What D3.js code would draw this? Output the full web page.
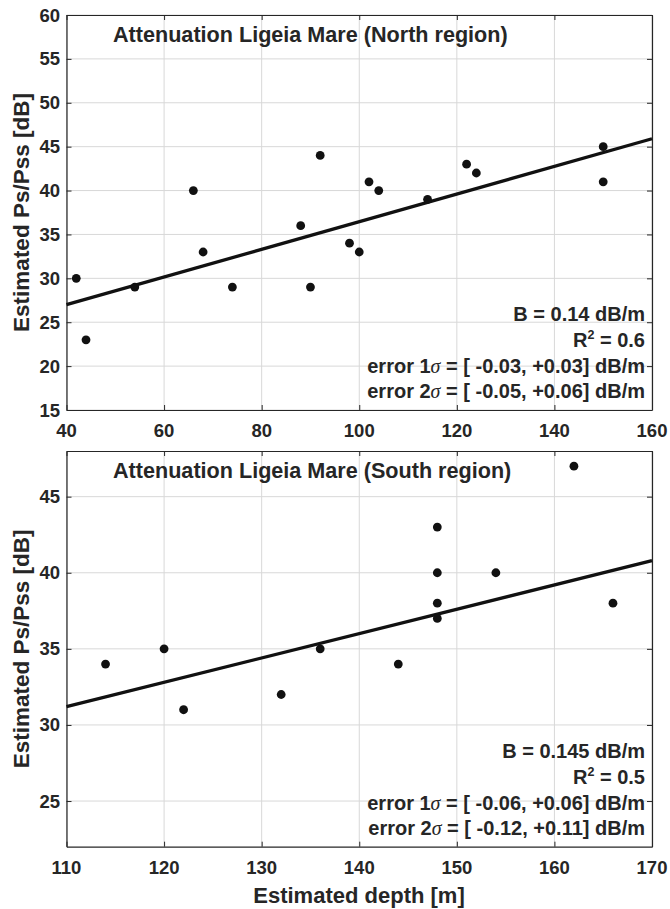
<!DOCTYPE html>
<html>
<head>
<meta charset="utf-8">
<script src="https://cdn.jsdelivr.net/npm/d3@7"></script>
<style>
  body { margin: 0; background: #fff; }
  svg text { font-family: "Liberation Sans", Arial, sans-serif; font-weight: bold; fill: #262626; }
</style>
</head>
<body>
<div id="chart"></div>
<script>
// North region points (depth in m, Ps/Pss in dB)
const northDepth = [42, 44, 54, 66, 68, 74, 88, 90, 92, 98, 100, 102, 104, 114, 122, 124, 150, 150];
const northPs = [30, 23, 29, 40, 33, 29, 36, 29, 44, 34, 33, 41, 40, 39, 43, 42, 45, 41];
const northFitX = [40, 160];
const northFitY = [27.0, 45.9];
const northXTicks = [40, 60, 80, 100, 120, 140, 160];
const northYTicks = [15, 20, 25, 30, 35, 40, 45, 50, 55, 60];
const northNotes = ["B = 0.14 dB/m", "R2 = 0.6", "error 1σ = [ -0.03, +0.03] dB/m", "error 2σ = [ -0.05, +0.06] dB/m"];

// South region points
const southDepth = [114, 120, 122, 132, 136, 144, 148, 148, 148, 148, 154, 162, 166];
const southPs = [34, 35, 31, 32, 35, 34, 43, 40, 38, 37, 40, 47, 38];
const southFitX = [110, 170];
const southFitY = [31.2, 40.8];
const southXTicks = [110, 120, 130, 140, 150, 160, 170];
const southYTicks = [25, 30, 35, 40, 45];
const southNotes = ["B = 0.145 dB/m", "R2 = 0.5", "error 1σ = [ -0.06, +0.06] dB/m", "error 2σ = [ -0.12, +0.11] dB/m"];

const width = 670, height = 909;
const svg = d3.select("#chart").append("svg")
    .attr("width", width)
    .attr("height", height);

function drawPanel(opt) {
    const x = d3.scaleLinear().domain(opt.xDomain).range([66.5, 652]);
    const y = d3.scaleLinear().domain(opt.yDomain).range([opt.bottom, opt.top]);
    const g = svg.append("g");

    // grid
    g.selectAll(".gx").data(opt.xTicks).join("line")
        .attr("x1", d => x(d)).attr("x2", d => x(d))
        .attr("y1", opt.top).attr("y2", opt.bottom)
        .attr("stroke", "#d8d8d8").attr("stroke-width", 1);
    g.selectAll(".gy").data(opt.yTicks).join("line")
        .attr("x1", x.range()[0]).attr("x2", x.range()[1])
        .attr("y1", d => y(d)).attr("y2", d => y(d))
        .attr("stroke", "#d8d8d8").attr("stroke-width", 1);

    // axes with inward ticks (box on)
    const fmt = d3.format("d");
    const ax = (axis, tr) => {
        const a = g.append("g").attr("transform", tr).call(axis);
        a.select(".domain").attr("stroke", "#262626").attr("stroke-width", 1.2);
        a.selectAll(".tick line").attr("stroke", "#262626");
        a.selectAll("text").remove();
        return a;
    };
    ax(d3.axisBottom(x).tickValues(opt.xTicks).tickSize(-5).tickSizeOuter(0), `translate(0,${opt.bottom})`);
    ax(d3.axisTop(x).tickValues(opt.xTicks).tickSize(-5).tickSizeOuter(0), `translate(0,${opt.top})`);
    ax(d3.axisLeft(y).tickValues(opt.yTicks).tickSize(-5).tickSizeOuter(0), `translate(66.5,0)`);
    ax(d3.axisRight(y).tickValues(opt.yTicks).tickSize(-5).tickSizeOuter(0), `translate(652,0)`);

    // tick labels
    g.selectAll(".xl").data(opt.xTicks).join("text")
        .attr("x", d => x(d)).attr("y", opt.bottom + 27)
        .attr("text-anchor", "middle").style("font-size", "18.5px")
        .text(fmt);
    g.selectAll(".yl").data(opt.yTicks).join("text")
        .attr("x", 60).attr("y", d => y(d) + 6.5)
        .attr("text-anchor", "end").style("font-size", "18.5px")
        .text(fmt);

    // fit line
    g.append("line")
        .attr("x1", x(opt.fitX[0])).attr("y1", y(opt.fitY[0]))
        .attr("x2", x(opt.fitX[1])).attr("y2", y(opt.fitY[1]))
        .attr("stroke", "#111").attr("stroke-width", 3.3);

    // points
    g.selectAll(".pt").data(opt.xs).join("circle")
        .attr("cx", d => x(d))
        .attr("cy", (d, i) => y(opt.ys[i]))
        .attr("r", 4.4)
        .attr("fill", "#111");

    // title
    g.append("text")
        .attr("x", 113).attr("y", opt.top + 27)
        .style("font-size", "21.6px")
        .text(opt.title);

    // y label
    g.append("text")
        .attr("transform", `translate(29,${(opt.top + opt.bottom) / 2}) rotate(-90)`)
        .attr("text-anchor", "middle")
        .style("font-size", "22.5px")
        .text("Estimated Ps/Pss [dB]");

    // annotation block
    const base = [opt.bottom - 89, opt.bottom - 63, opt.bottom - 37, opt.bottom - 12];
    opt.notes.forEach((s, i) => {
        const t = g.append("text")
            .attr("x", 645).attr("y", base[i])
            .attr("text-anchor", "end")
            .style("font-size", "20px");
        if (s.startsWith("R2")) {
            t.append("tspan").text("R");
            t.append("tspan").attr("dy", -8).style("font-size", "12.5px").text("2");
            t.append("tspan").attr("dy", 8).text(s.slice(2));
        } else if (s.includes("σ")) {
            const k = s.indexOf("σ");
            t.append("tspan").text(s.slice(0, k));
            t.append("tspan").style("font-style", "italic").style("font-weight", "normal")
                .style("font-family", "'Liberation Serif', serif").text("σ");
            t.append("tspan").text(s.slice(k + 1));
        } else {
            t.text(s);
        }
    });
}

drawPanel({
    xDomain: [40, 160], yDomain: [15, 60], top: 15, bottom: 410,
    xTicks: northXTicks, yTicks: northYTicks,
    xs: northDepth, ys: northPs, fitX: northFitX, fitY: northFitY,
    title: "Attenuation Ligeia Mare (North region)", notes: northNotes
});

drawPanel({
    xDomain: [110, 170], yDomain: [22, 48], top: 451, bottom: 846.7,
    xTicks: southXTicks, yTicks: southYTicks,
    xs: southDepth, ys: southPs, fitX: southFitX, fitY: southFitY,
    title: "Attenuation Ligeia Mare (South region)", notes: southNotes
});

// x axis label (bottom only)
svg.append("text")
    .attr("x", 359).attr("y", 903)
    .attr("text-anchor", "middle")
    .style("font-size", "22px")
    .text("Estimated depth [m]");
</script>
</body>
</html>
